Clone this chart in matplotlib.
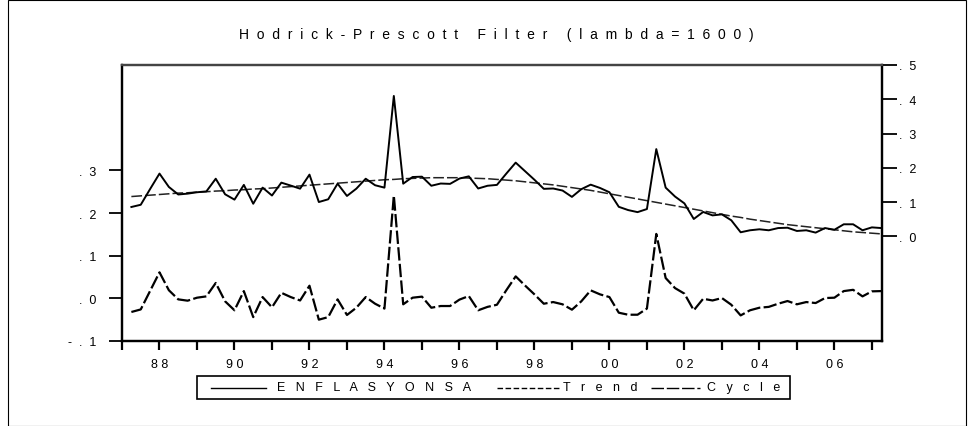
import matplotlib
matplotlib.use("Agg")
import matplotlib.pyplot as plt
from matplotlib.lines import Line2D
from matplotlib.patches import Rectangle

plt.rcParams['font.family'] = ['Liberation Sans', 'DejaVu Sans']

# Quarterly sample 1987Q2 - 2007Q2
start_year = 1987
start_quarter = 2
enflasyonsa = [
    0.0855, 0.092, 0.138,
    0.183, 0.144, 0.122, 0.1245,
    0.1285, 0.131, 0.168, 0.1226,
    0.107, 0.150, 0.095, 0.142,
    0.119, 0.1566, 0.148, 0.139,
    0.180, 0.100, 0.108, 0.1536,
    0.1177, 0.139, 0.168, 0.149,
    0.142, 0.4096, 0.1536, 0.173,
    0.174, 0.1475, 0.154, 0.153,
    0.1685, 0.175, 0.1395, 0.1475,
    0.150, 0.183, 0.215, 0.190,
    0.165, 0.1385, 0.1395, 0.1335,
    0.115, 0.1375, 0.1507, 0.141,
    0.1285, 0.086, 0.0765, 0.0705,
    0.0795, 0.2545, 0.142, 0.116,
    0.096, 0.0505, 0.071, 0.061,
    0.064, 0.0467, 0.0117, 0.0175,
    0.0204, 0.0175, 0.024, 0.025,
    0.0155, 0.0175, 0.0107, 0.024,
    0.019, 0.035, 0.035, 0.0175,
    0.026, 0.024,
]
trend = [
    0.116, 0.118, 0.120,
    0.122, 0.124, 0.126, 0.127,
    0.129, 0.130, 0.132, 0.133,
    0.135, 0.136, 0.138, 0.139,
    0.141, 0.143, 0.145, 0.147,
    0.149, 0.151, 0.153, 0.155,
    0.157, 0.159, 0.161, 0.163,
    0.165, 0.166, 0.168, 0.169,
    0.170, 0.171, 0.171, 0.171,
    0.171, 0.170, 0.169, 0.168,
    0.166, 0.164, 0.162, 0.159,
    0.156, 0.153, 0.150, 0.146,
    0.142, 0.138, 0.134, 0.129,
    0.124, 0.119, 0.114, 0.109,
    0.104, 0.099, 0.094, 0.089,
    0.084, 0.079, 0.074, 0.069,
    0.064, 0.059, 0.055, 0.050,
    0.046, 0.042, 0.038, 0.034,
    0.031, 0.028, 0.025, 0.022,
    0.019, 0.016, 0.013, 0.011,
    0.009, 0.007,
]
cycle = [
    -0.032, -0.026, 0.0175,
    0.061, 0.019, -0.0024, -0.0055,
    0.0015, 0.0046, 0.036, -0.007,
    -0.028, 0.017, -0.044, 0.003,
    -0.021, 0.013, 0.003, -0.005,
    0.0296, -0.050, -0.044, -0.0024,
    -0.039, -0.022, 0.003, -0.0126,
    -0.024, 0.241, -0.014, 0.0015,
    0.004, -0.022, -0.018, -0.018,
    -0.003, 0.0054, -0.028, -0.020,
    -0.015, 0.019, 0.0515, 0.030,
    0.0093, -0.0126, -0.0087, -0.014,
    -0.0266, -0.007, 0.0187, 0.0093,
    0.003, -0.0337, -0.0384, -0.0384,
    -0.024, 0.151, 0.0476, 0.024,
    0.011, -0.028, -0.001, -0.005,
    0.0007, -0.015, -0.040, -0.028,
    -0.022, -0.020, -0.0126, -0.0063,
    -0.014, -0.0087, -0.011, 0.0007,
    0.0015, 0.017, 0.020, 0.0046,
    0.0164, 0.017,
]
left_ticks = [-0.1, 0.0, 0.1, 0.2, 0.3]
left_labels = ["-  .  1", ".  0", ".  1", ".  2", ".  3"]
right_ticks = [0.0, 0.1, 0.2, 0.3, 0.4, 0.5]
right_labels = [".  0", ".  1", ".  2", ".  3", ".  4", ".  5"]
year_ticks = list(range(1987, 2008))
year_labels = ["8 8", "9 0", "9 2", "9 4", "9 6", "9 8", "0 0", "0 2", "0 4", "0 6"]
title_words = ["Hodrick-Prescott", "Filter", "(lambda=1600)"]
legend_labels = ["ENFLASYONSA", "Trend", "Cycle"]


def spaced(s, gap="  "):
    return gap.join(s)


x = [start_year + (start_quarter - 1 + i) / 4.0 for i in range(len(enflasyonsa))]

W, H = 975, 427
fig = plt.figure(figsize=(W / 100, H / 100), dpi=100)
fig.patch.set_facecolor('white')

L, R, T, B = 122, 882, 66, 342
ax = fig.add_axes([L / W, 1 - B / H, (R - L) / W, (B - T) / H])
ax2 = ax.twinx()

ax.plot(x, cycle, color='black', lw=1.6, ls=(0, (6, 1.5)), zorder=3)
ax2.plot(x, enflasyonsa, color='black', lw=1.4, ls='-', zorder=3)
ax2.plot(x, trend, color='#222222', lw=1.1, ls=(0, (7, 2)), zorder=2)

ax.set_xlim(1987.0, 2007.27)
ax.set_ylim(-0.1, 0.547)
ax2.set_ylim(-0.3057, 0.5)

ax.set_yticks(left_ticks)
ax.set_yticklabels(left_labels)
ax2.set_yticks(right_ticks)
ax2.set_yticklabels(right_labels)
ax.set_xticks(year_ticks)
lbls = []
k = 0
for y in year_ticks:
    if y % 2 == 0:
        lbls.append(year_labels[k]); k += 1
    else:
        lbls.append("")
ax.set_xticklabels(lbls)

for a in (ax, ax2):
    for s in a.spines.values():
        s.set_linewidth(1.6)
        s.set_color('black')
    a.spines['top'].set_color('#444444')
ax.tick_params(axis='y', direction='out', length=9.4, width=1.3, labelsize=9, pad=9)
ax2.tick_params(axis='y', direction='out', length=10.5, width=1.3, labelsize=9, pad=1.5)
ax.tick_params(axis='x', direction='out', length=6.5, width=1.6, labelsize=9, pad=6)

title = "     ".join(spaced(w) for w in title_words)
fig.text(496 / W, 1 - 35 / H, title, ha='center', va='center', fontsize=10)


def fx(px):
    return px / W


def fy(py):
    return 1 - py / H


# outer graph frame
fig.add_artist(Rectangle((fx(8), fy(426.5)), fx(966) - fx(8), fy(0.5) - fy(426.5),
                         transform=fig.transFigure, fill=False, edgecolor='black', lw=0.8))

# legend box drawn in figure pixel coordinates
lx0, lx1, ly0, ly1 = 197, 790, 377, 400
fig.add_artist(Rectangle((fx(lx0), fy(ly1)), fx(lx1) - fx(lx0), fy(ly0) - fy(ly1),
                         transform=fig.transFigure, fill=False, edgecolor='black', lw=1.2))
ymid = fy(388.5)
entries = [
    ((211, 266), 277, '-', legend_labels[0]),
    ((497, 560), 563, (0, (4, 1.8)), legend_labels[1]),
    ((651, 700), 707, (0, (9, 2)), legend_labels[2]),
]
for (a, b), tx, ls, lab in entries:
    fig.add_artist(Line2D([fx(a), fx(b)], [ymid, ymid], transform=fig.transFigure,
                          color='black', lw=1.0, ls=ls))
    fig.text(fx(tx), ymid, spaced(lab, "   "), ha='left', va='center', fontsize=9)

fig.savefig('out.png', dpi=100, facecolor='white')
